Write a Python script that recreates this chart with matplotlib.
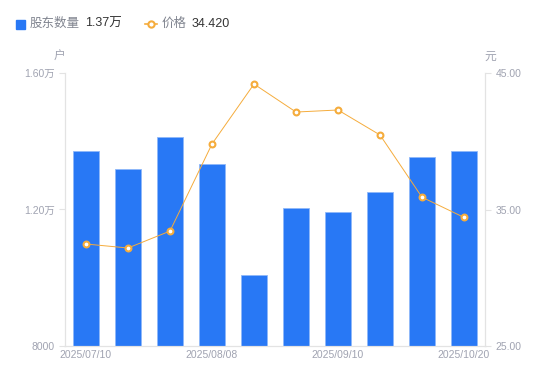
import numpy as np
import matplotlib.pyplot as plt
from matplotlib.lines import Line2D

plt.rcParams['font.family'] = ['Liberation Sans', 'Noto Sans CJK SC', 'DejaVu Sans']

dates = ["2025/07/10", "2025/07/20", "2025/07/31", "2025/08/08", "2025/08/20",
         "2025/08/31", "2025/09/10", "2025/09/20", "2025/09/30", "2025/10/20"]
holders = [13710, 13190, 14130, 13330, 10080, 12040, 11930, 12510, 13540, 13700]
price = [32.47, 32.18, 33.42, 39.80, 44.19, 42.14, 42.29, 40.46, 35.90, 34.42]
shown_ticks = [0, 3, 6, 9]

blue = "#2878f5"
orange = "#f5ac3c"
tick_c = "#a0a3b1"
axis_c = "#e3e3e3"

fig = plt.figure(figsize=(5.5, 3.81), dpi=100)
ax = fig.add_axes([65 / 550, 35 / 381, 420 / 550, 273 / 381])
ax2 = ax.twinx()

x = np.arange(len(dates))
ax.bar(x, holders, width=0.6, color=blue, edgecolor="#8fb8fa", linewidth=0.6, zorder=2)
ax.set_xlim(-0.5, len(dates) - 0.5)
ax.set_ylim(8000, 16000)
ax.set_yticks([8000, 12000, 16000])
ax.set_yticklabels(["8000", "1.20万", "1.60万"])
ax.set_xticks(shown_ticks)
ax.set_xticklabels([dates[i] for i in shown_ticks])

ax2.plot(x, price, color=orange, linewidth=0.7, marker="o", markersize=4.2,
         markerfacecolor="white", markeredgecolor=orange, markeredgewidth=1.5, zorder=3)
ax2.set_ylim(25, 45)
ax2.set_yticks([25, 35, 45])
ax2.set_yticklabels(["25.00", "35.00", "45.00"])

for a in (ax, ax2):
    for s in a.spines.values():
        s.set_color(axis_c)
        s.set_linewidth(0.8)
    a.spines["top"].set_visible(False)
    a.tick_params(labelsize=7.5, colors=tick_c, length=4, width=0.8, color=axis_c)
ax.tick_params(axis="x", length=0, pad=3)
ax2.tick_params(axis="x", length=0)

fig.text(59 / 550, 1 - 57 / 381, "户", fontsize=8.5, color=tick_c, ha="center", va="center")
fig.text(490 / 550, 1 - 57 / 381, "元", fontsize=8.5, color=tick_c, ha="center", va="center")

# legend header
fig.patches.append(plt.Rectangle((16 / 550, 1 - 29 / 381), 9 / 550, 9 / 381,
                                 transform=fig.transFigure, color=blue))
fig.text(30 / 550, 1 - 24 / 381, "股东数量", fontsize=9, color="#80848f", va="center")
fig.text(85 / 550, 1 - 24 / 381, "1.37万", fontsize=9, color="#333333", va="center")
fig.lines.append(Line2D([145 / 550, 157 / 550], [1 - 24 / 381, 1 - 24 / 381],
                        transform=fig.transFigure, color=orange, linewidth=1.2))
fig.lines.append(Line2D([151 / 550], [1 - 24 / 381], transform=fig.transFigure,
                        marker="o", markersize=4.5, markerfacecolor="white",
                        markeredgecolor=orange, markeredgewidth=1.5))
fig.text(162 / 550, 1 - 24 / 381, "价格", fontsize=9, color="#80848f", va="center")
fig.text(192 / 550, 1 - 24 / 381, "34.420", fontsize=9, color="#333333", va="center")

fig.savefig("out.png", dpi=100)
